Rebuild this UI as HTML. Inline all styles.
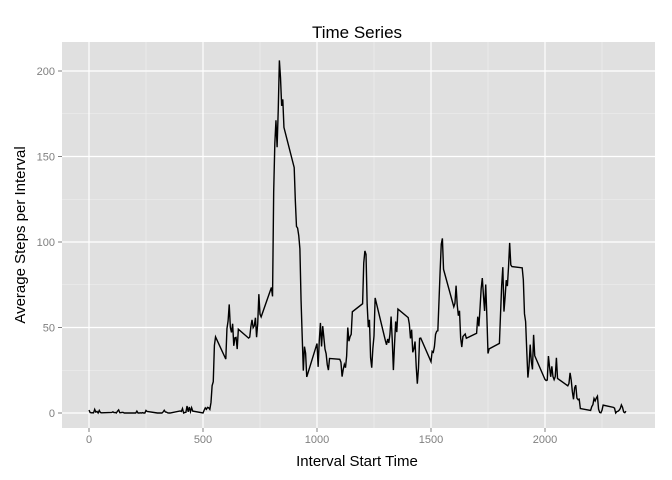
<!DOCTYPE html>
<html><head><meta charset="utf-8"><style>
body{margin:0;background:#fff;}
svg{display:block;font-family:"Liberation Sans",sans-serif;}
</style></head><body>
<svg id="chart" width="672" height="480">
<rect x="62" y="42" width="593" height="386" fill="#e0e0e0"/>
<g id="grid"></g>
<g id="ticks"></g>
<path id="line" fill="none" stroke="#000" stroke-width="1.4"/>
<text x="357" y="38" text-anchor="middle" font-size="17">Time Series</text>
<text x="357" y="466" text-anchor="middle" font-size="15">Interval Start Time</text>
<text transform="translate(25,235) rotate(-90)" text-anchor="middle" font-size="15">Average Steps per Interval</text>
</svg>
<script>
const intervals = [0,5,10,15,20,25,30,35,40,45,50,55,100,105,110,115,120,125,130,135,140,145,150,155,200,205,210,215,220,225,230,235,240,245,250,255,300,305,310,315,320,325,330,335,340,345,350,355,400,405,410,415,420,425,430,435,440,445,450,455,500,505,510,515,520,525,530,535,540,545,550,555,600,605,610,615,620,625,630,635,640,645,650,655,700,705,710,715,720,725,730,735,740,745,750,755,800,805,810,815,820,825,830,835,840,845,850,855,900,905,910,915,920,925,930,935,940,945,950,955,1000,1005,1010,1015,1020,1025,1030,1035,1040,1045,1050,1055,1100,1105,1110,1115,1120,1125,1130,1135,1140,1145,1150,1155,1200,1205,1210,1215,1220,1225,1230,1235,1240,1245,1250,1255,1300,1305,1310,1315,1320,1325,1330,1335,1340,1345,1350,1355,1400,1405,1410,1415,1420,1425,1430,1435,1440,1445,1450,1455,1500,1505,1510,1515,1520,1525,1530,1535,1540,1545,1550,1555,1600,1605,1610,1615,1620,1625,1630,1635,1640,1645,1650,1655,1700,1705,1710,1715,1720,1725,1730,1735,1740,1745,1750,1755,1800,1805,1810,1815,1820,1825,1830,1835,1840,1845,1850,1855,1900,1905,1910,1915,1920,1925,1930,1935,1940,1945,1950,1955,2000,2005,2010,2015,2020,2025,2030,2035,2040,2045,2050,2055,2100,2105,2110,2115,2120,2125,2130,2135,2140,2145,2150,2155,2200,2205,2210,2215,2220,2225,2230,2235,2240,2245,2250,2255,2300,2305,2310,2315,2320,2325,2330,2335,2340,2345,2350,2355];
const steps = [1.7,0.3,0.1,0.2,0.1,2.1,0.5,0.9,0,1.5,0.3,0.1,0.3,0.7,0.2,0.3,0,1.1,1.8,0.2,0.2,0.4,0.3,0,0,0,1.1,0,0,0.1,0,0.2,0,0,1.5,0.9,0,0,0,0,0,0.6,1.6,0.6,0.5,0.1,0,0,1.2,0.9,2.6,0,0.3,0.4,4.1,0.7,3.5,0.8,3.1,1.1,0,1.6,3.0,2.2,3.3,3.0,2.1,6.1,16.0,18.3,39.5,44.5,31.5,49.3,53.8,63.5,50.0,47.1,52.2,39.3,44.0,44.2,37.4,49.0,43.8,44.4,50.5,54.5,49.9,51.0,55.7,44.3,52.3,69.5,57.8,56.2,73.4,68.2,129.4,157.5,171.2,155.4,177.3,206.2,195.9,179.6,183.4,167.0,143.5,124.0,109.1,108.1,103.7,96.0,66.2,45.2,24.8,38.8,35.0,21.1,40.6,27.0,42.4,52.7,38.9,50.8,44.3,37.4,34.7,28.3,25.1,31.9,31.4,29.7,21.3,25.5,28.4,26.5,33.4,50.0,42.0,44.6,46.0,59.2,63.9,87.7,94.8,92.8,63.4,50.2,54.5,32.4,26.5,37.7,45.1,67.3,42.3,39.9,43.3,41.0,46.2,56.4,42.8,25.1,40.0,53.5,47.3,60.8,55.8,52.0,43.6,48.7,35.5,37.5,41.8,27.5,17.1,26.1,43.6,43.8,30.0,36.1,35.5,38.8,46.0,47.8,48.1,65.3,82.9,98.7,102.1,84.0,62.1,64.1,74.5,63.2,56.9,59.8,43.9,38.6,44.7,45.5,46.2,43.7,46.6,56.3,50.7,61.2,72.7,78.9,68.9,59.7,75.1,56.5,34.8,37.5,40.7,58.0,74.7,85.3,59.3,67.8,77.7,74.2,85.3,99.5,86.6,85.6,84.9,77.8,58.0,53.4,36.3,20.7,27.4,40.0,30.2,25.5,45.7,33.5,19.6,19.0,19.3,33.3,26.8,21.2,27.3,21.3,19.5,21.3,32.3,20.2,15.9,17.2,23.5,19.2,12.5,8.0,14.7,16.3,8.7,7.8,8.1,2.6,1.5,3.7,4.8,8.5,7.1,8.7,9.8,2.2,0.3,0.1,1.6,4.6,3.3,2.8,0,0.8,1.0,1.6,2.6,4.7,3.3,0.6,0.2,1.1];
const xTicks = [0,500,1000,1500,2000];
const yTicks = [0,50,100,150,200];

const X0=62,X1=655,Y0=42,Y1=428;
function xs(v){return 89 + v*0.228;}
function ys(v){return 413 - v*1.71;}
const NS='http://www.w3.org/2000/svg';
const grid=document.getElementById('grid'), ticks=document.getElementById('ticks');
function ln(g,x1,y1,x2,y2,c,w){const l=document.createElementNS(NS,'line');l.setAttribute('x1',x1);l.setAttribute('y1',y1);l.setAttribute('x2',x2);l.setAttribute('y2',y2);l.setAttribute('stroke',c);l.setAttribute('stroke-width',w);g.appendChild(l);return l;}
for(let i=0;i<xTicks.length;i++){const m=xTicks[i]+250;const x=xs(m);if(x<X1){const l=ln(grid,x,Y0,x,Y1,'#f0f0f0',0.6);

}}
for(let i=-1;i<yTicks.length;i++){const m=(i<0?-25:yTicks[i]+25);const y=ys(m);if(y>Y0&&y<Y1){const l=ln(grid,X0,y,X1,y,'#f0f0f0',0.6);

}}
xTicks.forEach(t=>{const x=xs(t);const l=ln(grid,x,Y0,x,Y1,'#fff',1.2);


ln(ticks,x,Y1,x,Y1+4,'#7f7f7f',1);
const tx=document.createElementNS(NS,'text');tx.setAttribute('x',x);tx.setAttribute('y',Y1+15);tx.setAttribute('text-anchor','middle');tx.setAttribute('font-size','11');tx.setAttribute('fill','#7f7f7f');tx.textContent=t;


ticks.appendChild(tx);});
yTicks.forEach(t=>{const y=ys(t);const l=ln(grid,X0,y,X1,y,'#fff',1.2);


ln(ticks,X0-4,y,X0,y,'#7f7f7f',1);
const tx=document.createElementNS(NS,'text');tx.setAttribute('x',X0-7);tx.setAttribute('y',y+4);tx.setAttribute('text-anchor','end');tx.setAttribute('font-size','11');tx.setAttribute('fill','#7f7f7f');tx.textContent=t;


ticks.appendChild(tx);});
let d='';intervals.forEach((iv,i)=>{d+=(i?'L':'M')+xs(iv).toFixed(2)+' '+ys(steps[i]).toFixed(2);});
document.getElementById('line').setAttribute('d',d);
</script>
</body></html>
